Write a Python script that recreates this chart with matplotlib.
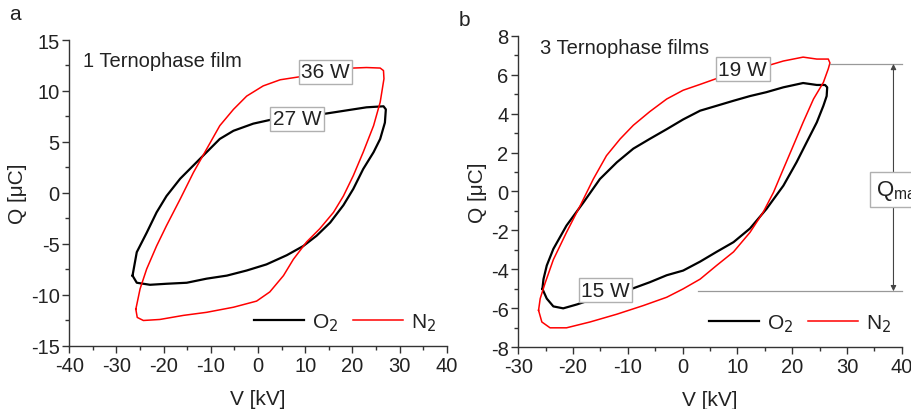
import matplotlib
matplotlib.use("Agg")
import matplotlib.pyplot as plt
from matplotlib.ticker import MultipleLocator

plt.rcParams['font.family'] = ['Liberation Sans', 'DejaVu Sans']
plt.rcParams['axes.unicode_minus'] = False

# ---- Panel a: 1 Ternophase film ----
a_o2_v = [-26.6, -25.7, -23.6, -21.5, -19.4, -16.5, -13.7, -10.9, -8.1, -5.2, -1.0, 2.9, 8.0, 13.9, 18.8,
          23.0, 26.6, 27.1, 26.9, 25.9, 24.5, 22.3, 20.2, 18.1, 15.3, 12.4, 9.6, 6.1, 1.8, -2.4, -6.6,
          -10.9, -15.1, -19.4, -22.9, -25.7, -26.6]
a_o2_q = [-8.1, -5.8, -3.9, -1.9, -0.3, 1.4, 2.7, 4.0, 5.3, 6.1, 6.8, 7.2, 7.5, 7.75, 8.1,
          8.4, 8.5, 8.2, 6.9, 5.3, 4.0, 2.35, 0.4, -1.2, -2.9, -4.2, -5.2, -6.1, -7.0, -7.6, -8.1,
          -8.4, -8.8, -8.9, -9.0, -8.8, -8.1]
a_n2_v = [-25.9, -25.0, -23.6, -21.5, -19.4, -16.5, -13.7, -10.9, -8.1, -5.2, -2.4, 1.1, 4.7, 8.9, 14.5,
          20.2, 23.0, 25.9, 26.6, 26.7, 25.9, 24.5, 22.3, 20.2, 18.1, 16.0, 13.1, 10.3, 7.5, 5.4, 2.5,
          -0.3, -5.2, -10.9, -15.8, -20.8, -24.3, -25.6, -25.9]
a_n2_q = [-11.4, -9.4, -7.45, -5.2, -3.2, -0.6, 2.0, 4.3, 6.6, 8.2, 9.5, 10.5, 11.1, 11.4, 11.9,
          12.25, 12.3, 12.25, 12.0, 11.2, 8.9, 6.6, 4.0, 1.7, -0.3, -1.9, -3.5, -4.8, -6.5, -8.1, -9.7,
          -10.6, -11.2, -11.7, -12.0, -12.4, -12.5, -12.2, -11.4]

# ---- Panel b: 3 Ternophase films ----
b_o2_v = [-25.6, -24.8, -23.6, -21.8, -19.3, -14.0, -9.3, -6.0, -2.9, 0.1, 3.2, 6.2, 9.3, 12.3, 15.3,
          18.4, 20.8, 22.6, 24.5, 25.7, 26.3, 26.4, 26.0, 24.5, 22.0, 18.4, 15.3, 12.3, 9.3, 6.2, 3.2,
          0.1, -2.9, -6.0, -9.0, -12.0, -15.1, -18.1, -21.2, -23.6, -24.8, -25.4, -25.6]
b_o2_q = [-5.0, -5.5, -5.9, -6.0, -5.8, -5.3, -5.0, -4.66, -4.3, -4.06, -3.6, -3.1, -2.6, -1.9, -0.9,
          0.3, 1.5, 2.5, 3.55, 4.4, 4.9, 5.35, 5.47, 5.47, 5.57, 5.35, 5.1, 4.9, 4.66, 4.4, 4.15,
          3.7, 3.2, 2.7, 2.2, 1.5, 0.64, -0.56, -1.75, -2.95, -3.8, -4.5, -5.0]
b_n2_v = [-26.3, -25.7, -24.2, -21.2, -16.9, -12.0, -7.2, -2.9, 0.1, 3.2, 6.2, 9.3, 12.3, 14.7, 16.6,
          18.4, 20.2, 22.0, 23.9, 25.7, 26.6, 26.9, 26.6, 24.5, 22.0, 18.4, 16.0, 11.0, 6.2, 3.2, 0.1,
          -2.9, -6.0, -9.0, -11.4, -13.9, -16.3, -18.7, -21.2, -23.6, -25.1, -26.0, -26.3]
b_n2_q = [-6.1, -6.7, -7.0, -7.0, -6.7, -6.3, -5.86, -5.43, -5.0, -4.5, -3.8, -3.1, -2.1, -1.07, -0.04,
          1.16, 2.35, 3.55, 4.75, 5.6, 6.3, 6.6, 6.8, 6.8, 6.9, 6.7, 6.5, 6.2, 5.8, 5.5, 5.2,
          4.75, 4.1, 3.4, 2.7, 1.84, 0.64, -0.73, -2.1, -3.5, -4.7, -5.5, -6.1]

labels_a = ["36 W", "27 W"]
labels_b = ["19 W", "15 W"]
qmax_hi, qmax_lo = 6.55, -5.12

TXT = '#222222'
fig = plt.figure(figsize=(9.12, 4.10), dpi=100)
axA = fig.add_axes([0.076, 0.1537, 0.4138, 0.7463])
axB = fig.add_axes([0.5683, 0.1505, 0.4204, 0.76])

box = dict(boxstyle='square,pad=0.12', fc='white', ec='#b0b0b0', lw=1.0)

def style(ax, xlim, ylim, xmaj, ymaj, ymin):
    ax.set_xlim(*xlim)
    ax.set_ylim(*ylim)
    ax.xaxis.set_major_locator(MultipleLocator(xmaj))
    ax.xaxis.set_minor_locator(MultipleLocator(xmaj / 2))
    ax.yaxis.set_major_locator(MultipleLocator(ymaj))
    ax.yaxis.set_minor_locator(MultipleLocator(ymin))
    for s in ['top', 'right']:
        ax.spines[s].set_visible(False)
    for s in ['left', 'bottom']:
        ax.spines[s].set_color('#333333')
        ax.spines[s].set_linewidth(1.0)
    ax.tick_params(which='major', direction='out', length=5, width=1, colors='#333333',
                   labelsize=14.5, labelcolor=TXT, pad=2)
    ax.tick_params(which='minor', direction='out', length=3, width=1, colors='#333333')
    ax.set_xlabel('V [kV]', fontsize=15, color=TXT, labelpad=10)
    ax.set_ylabel('Q [μC]', fontsize=15, color=TXT, labelpad=3)

# Panel a
axA.plot(a_o2_v, a_o2_q, color='black', lw=1.6, label='O$_2$')
axA.plot(a_n2_v, a_n2_q, color='#ff0000', lw=1.1, label='N$_2$')
style(axA, (-40, 40), (-15, 15), 10, 5, 2.5)
axA.text(-37.0, 13.0, '1 Ternophase film', fontsize=14.5, color=TXT, va='center', ha='left')
axA.text(14.3, 11.9, labels_a[0], fontsize=15, color=TXT, ha='center', va='center', bbox=box, zorder=5)
axA.text(8.3, 7.3, labels_a[1], fontsize=15, color=TXT, ha='center', va='center', bbox=box, zorder=5)
axA.legend(loc='lower right', ncol=2, frameon=False, fontsize=15, handlelength=2.4,
           columnspacing=0.7, handletextpad=0.4, borderaxespad=0.1, labelcolor=TXT,
           bbox_to_anchor=(1.0, 0.01))
fig.text(0.01, 0.965, 'a', fontsize=15, color=TXT, va='center')

# Panel b
axB.plot(b_o2_v, b_o2_q, color='black', lw=1.6, label='O$_2$')
axB.plot(b_n2_v, b_n2_q, color='#ff0000', lw=1.1, label='N$_2$')
style(axB, (-30, 40), (-8, 8), 10, 2, 1)
axB.text(-26.0, 7.4, '3 Ternophase films', fontsize=14.5, color=TXT, va='center', ha='left')
axB.text(11.0, 6.27, labels_b[0], fontsize=15, color=TXT, ha='center', va='center', bbox=box, zorder=5)
axB.text(-14.1, -5.06, labels_b[1], fontsize=15, color=TXT, ha='center', va='center', bbox=box, zorder=5)
axB.plot([26.9, 40], [qmax_hi, qmax_hi], color='#999999', lw=0.9, clip_on=False)
axB.plot([2.9, 40], [qmax_lo, qmax_lo], color='#999999', lw=0.9, clip_on=False)
axB.annotate('', xy=(38.5, qmax_lo), xytext=(38.5, qmax_hi),
             arrowprops=dict(arrowstyle='<|-|>', color='#444444', lw=0.8, mutation_scale=8,
                             shrinkA=0, shrinkB=0))
axB.text(35.3, 0.1, 'Q$_{\\mathregular{max}}$', fontsize=16, color=TXT, ha='left', va='center',
         bbox=dict(boxstyle='square,pad=0.25', fc='white', ec='#b0b0b0', lw=1.0), zorder=6, clip_on=False)
axB.legend(loc='lower right', ncol=2, frameon=False, fontsize=15, handlelength=2.4,
           columnspacing=0.7, handletextpad=0.4, borderaxespad=0.1, labelcolor=TXT,
           bbox_to_anchor=(1.0, 0.01))
fig.text(0.503, 0.95, 'b', fontsize=15, color=TXT, va='center')

fig.savefig('out.png', dpi=100)
